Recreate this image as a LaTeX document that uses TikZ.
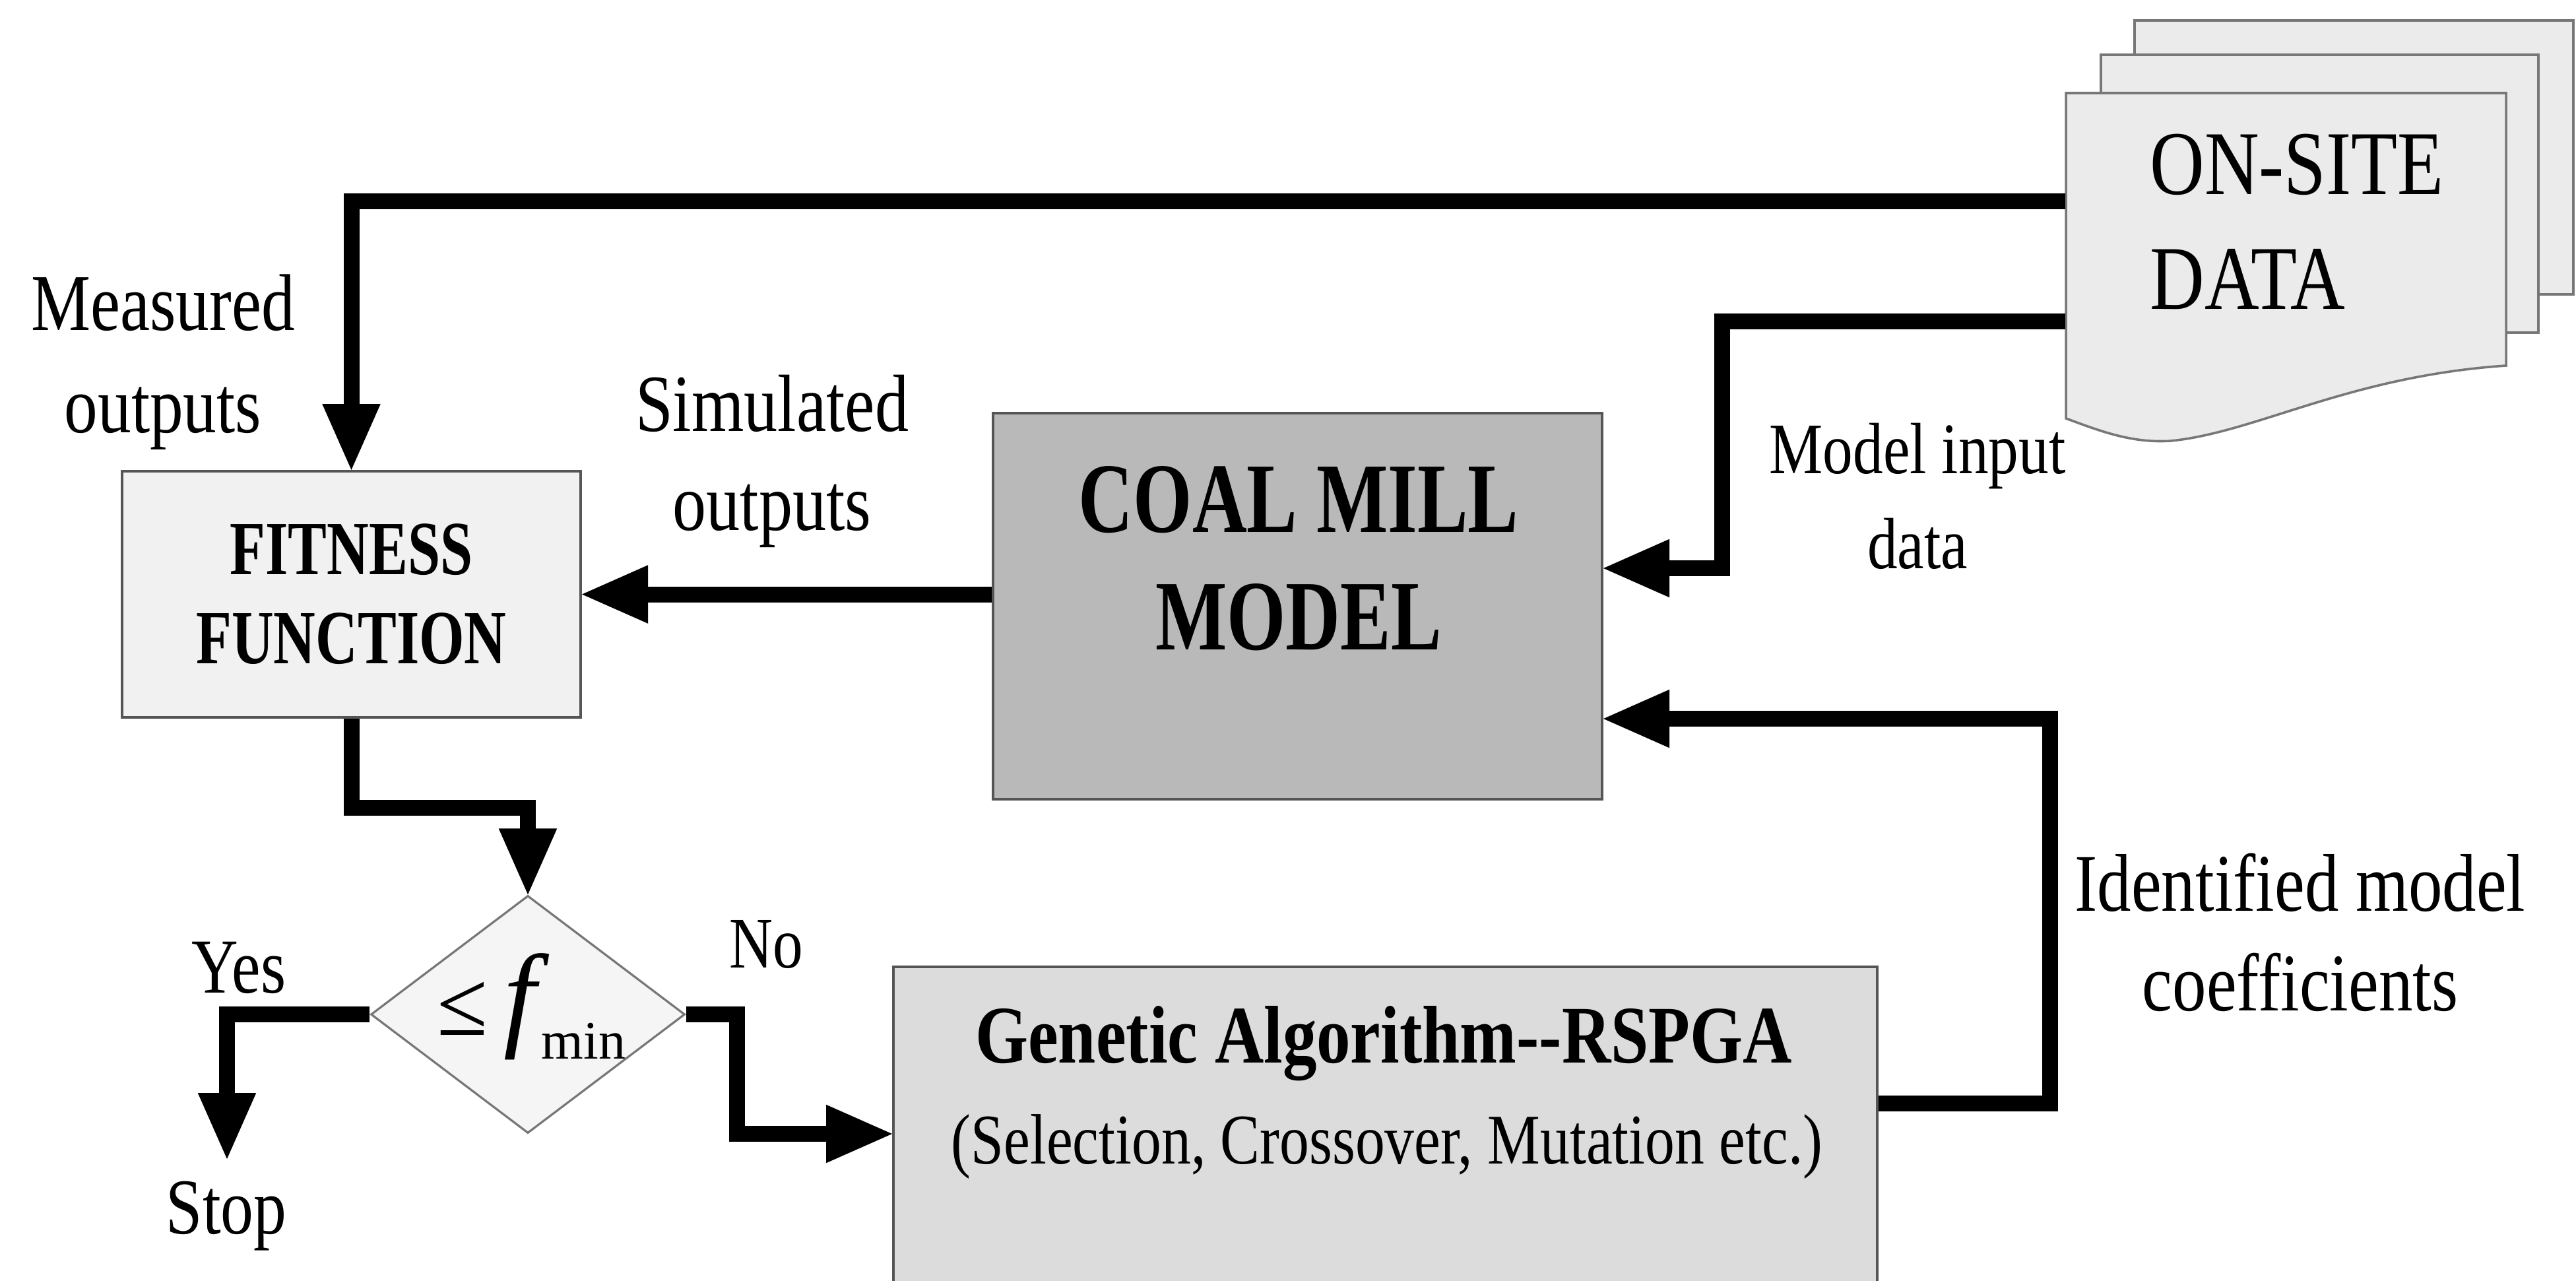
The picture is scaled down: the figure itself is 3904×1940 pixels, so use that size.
\documentclass[tikz,border=0pt]{standalone}
\usepackage{fontspec}
\setmainfont{Liberation Serif}[FakeStretch=0.83]
\newfontfamily\condfont{Liberation Serif}[FakeStretch=0.76]
\newfontfamily\plainfont{Liberation Serif}
\usetikzlibrary{arrows.meta,shapes.geometric}
\definecolor{fitfill}{HTML}{F1F1F1}
\definecolor{coalfill}{HTML}{B9B9B9}
\definecolor{gafill}{HTML}{DCDCDC}
\definecolor{diafill}{HTML}{F5F5F5}
\definecolor{pagefill}{HTML}{EBEBEB}
\definecolor{edgegray}{HTML}{555555}
\tikzset{
  boxstyle/.style={draw=edgegray, line width=1pt, inner sep=0pt, rectangle},
  flow/.style={draw=black, line width=6pt, line join=miter,
    -{Triangle[width=22pt,length=25pt,line width=0.5pt]}},
  pagestyle/.style={draw=edgegray!80, fill=pagefill, line width=0.9pt},
  lbl/.style={inner sep=0pt, align=center},
}
\begin{document}
\begin{tikzpicture}[x=0.25pt,y=-0.25pt]
\useasboundingbox (0,0) rectangle (3904,1940);
\clip (0,0) rectangle (3904,1940);
\fill[white] (0,0) rectangle (3904,1940);

% ON-SITE DATA document stack
\path[pagestyle] (3235,31) rectangle (3900,446);
\path[pagestyle] (3184,83) rectangle (3847,504);
\path[pagestyle] (3131,141) -- (3798,141) -- (3798,554)
  .. controls (3560,570) and (3420,655) .. (3290,668)
  .. controls (3230,672) and (3180,652) .. (3131,634) -- cycle;
\node[inner sep=0pt, minimum width=166.75pt, minimum height=123.25pt] (onsite) at (3464.5,387.5) {};
\node[lbl, align=left, font={\fontsize{34.5pt}{43.5pt}\selectfont}] (onsitetext) at (3481,335.5) {ON-SITE\\DATA};

% boxes
\node[boxstyle, fill=fitfill, minimum width=173.75pt, minimum height=93.25pt,
  align=center, font={\condfont\bfseries\fontsize{29pt}{33.75pt}\selectfont}] (fitness) at (532.5,900.5) {FITNESS\\FUNCTION};
\node[boxstyle, fill=coalfill, minimum width=230.75pt, minimum height=146.25pt] (coal) at (1966.5,918.5) {};
\node[lbl, font={\condfont\bfseries\fontsize{37.75pt}{44.5pt}\selectfont}] (coaltext) at (1968,846) {COAL MILL\\MODEL};
\node[boxstyle, fill=gafill, minimum width=372.75pt, minimum height=131.25pt] (ga) at (2099.5,1727.5) {};
\node[lbl, font={\bfseries\fontsize{31pt}{36pt}\selectfont}] (gatitle) at (2097,1581) {Genetic Algorithm-{}-RSPGA};
\node[lbl, font={\fontsize{27pt}{33pt}\selectfont}] (gasub) at (2102,1737) {(Selection, Crossover, Mutation etc.)};

% decision diamond
\node[draw=edgegray!80, fill=diafill, line width=0.8pt, shape=diamond, inner sep=0pt,
  minimum width=119pt, minimum height=90pt] (dia) at (800,1537) {};
\node[inner sep=0pt, anchor=base west, font=\plainfont] (crit) at (662,1568)
  {\fontsize{35pt}{35pt}\selectfont ≤\hspace{6pt}{\fontsize{44pt}{44pt}\selectfont\itshape f}\hspace{2pt}\raisebox{-9pt}{\fontsize{20.5pt}{20.5pt}\selectfont min}};

% labels
\node[lbl, font={\fontsize{30.5pt}{38.75pt}\selectfont}] (meas) at (247,549) {Measured\\outputs};
\node[lbl, font={\fontsize{30.75pt}{37.5pt}\selectfont}] (simu) at (1170,698.5) {Simulated\\outputs};
\node[lbl, font={\fontsize{27.5pt}{36pt}\selectfont}] (minp) at (2906,751.5) {Model input\\data};
\node[lbl, font={\fontsize{31pt}{37.75pt}\selectfont}] (ident) at (3486,1413) {Identified model\\coefficients};
\node[lbl, font={\fontsize{29.5pt}{36pt}\selectfont}] (yes) at (362,1466) {Yes};
\node[lbl, font={\fontsize{27.5pt}{36pt}\selectfont}] (no) at (1161,1431) {No};
\node[lbl, font={\fontsize{30pt}{36pt}\selectfont}] (stop) at (343,1842.5) {Stop};
\coordinate (yesend) at (344,1756);

% connectors
\draw[flow] ([yshift=20.625pt]onsite.west) -| (fitness.north);
\draw[flow] ([yshift=-24.875pt]onsite.west) -- ++(-520,0) |- ([yshift=14.375pt]coal.east);
\draw[flow] (coal.west |- fitness.east) -- (fitness.east);
\draw[flow] ([yshift=13.875pt]ga.east) -- ++(260,0) |- ([yshift=-42.625pt]coal.east);
\draw[flow] (fitness.south) -- ++(0,135) -| (dia.north);
\draw[flow] (dia.west) -| (yesend);
\draw[flow] (dia.east) -- ++(77,0) |- ([yshift=2.375pt]ga.west);
\end{tikzpicture}
\end{document}
